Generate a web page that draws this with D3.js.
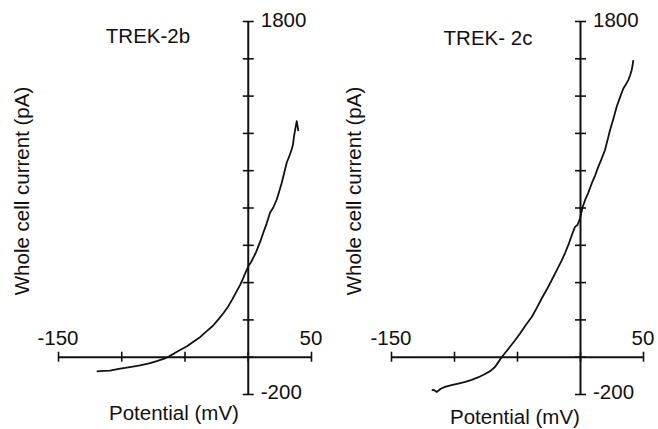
<!DOCTYPE html>
<html>
<head>
<meta charset="utf-8">
<title>TREK-2b / TREK-2c I-V</title>
<style>
  body { margin: 0; background: #fff; }
  svg text { font-family: "Liberation Sans", Arial, sans-serif; font-size: 20.5px; fill: #111; }
</style>
</head>
<body>
<svg id="chart" width="658" height="429"></svg>
<script src="https://cdn.jsdelivr.net/npm/d3@7/dist/d3.min.js"></script>
<script>
// tick values shared by both panels
var xTicks = [-150, -100, -50, 0, 50];
var yTicks = [-200, 0, 200, 400, 600, 800, 1000, 1200, 1400, 1600, 1800];

// TREK-2b trace, potential (mV) and current (pA)
var trek2bV = [-119.4, -114, -108.9, -103, -98.3, -92, -85.1, -78, -71.9, -66, -62.8, -58, -53.5, -48, -43, -37.5,
  -32.4, -27.5, -23.2, -19, -15.3, -12, -8.7, -6, -3.5, -1.5, 0.5, 2.5, 4.4, 6.3, 8.4, 10.3, 12.3, 15, 17.6,
  20.2, 22.9, 24.8, 26.9, 28.8, 30.8, 32.8, 34.8, 35.8, 36.6, 37.8, 38.7, 39.3, 40];
var trek2bI = [-79, -76, -75, -67, -61, -54, -47, -36, -24, -10, 0, 18, 36, 56, 80, 106,
  137, 166, 200, 236, 271, 310, 352, 385, 423, 455, 486, 505, 531, 556, 593, 625, 665, 715, 772,
  800, 843, 885, 933, 985, 1040, 1075, 1112, 1140, 1183, 1230, 1263, 1240, 1210];

// TREK-2c trace
var trek2cV = [-117.7, -116, -113.7, -110.5, -107.1, -102, -96.6, -91, -86, -80.5, -75.4, -71, -67.5, -64.8, -62.2,
  -59, -55.6, -51.5, -47.6, -43, -38.3, -34.3, -30.4, -26.4, -22.5, -18.5, -14.5, -11.9, -9.3, -6.6, -4, -2,
  0, 2, 4, 6.6, 9.3, 11.9, 14.5, 17.2, 19.8, 21.8, 23.8, 26.5, 29.1, 31.8, 34.4, 36.4, 38.3, 39.7, 41, 41.8, 42.3];
var trek2cI = [-180, -178, -189, -172, -162, -152, -144, -135, -124, -110, -93, -76, -55, -29, -3,
  24, 53, 88, 124, 170, 213, 262, 312, 360, 410, 463, 517, 556, 598, 650, 696, 706,
  741, 800, 839, 880, 929, 970, 1018, 1062, 1107, 1160, 1214, 1276, 1340, 1392, 1438, 1460, 1483, 1508, 1536, 1565, 1590];

var svg = d3.select('#chart');

var panels = [
  { title: 'TREK-2b', v: trek2bV, i: trek2bI, x0: 58, x1: 311, yTop: 21, yBot: 394,
    titleX: 148, titleY: 43, yLabX: 29, xLabX: 174, xLabY: 420 },
  { title: 'TREK- 2c', v: trek2cV, i: trek2cI, x0: 391, x1: 643, yTop: 21, yBot: 394,
    titleX: 488, titleY: 45, yLabX: 361, xLabX: 515, xLabY: 424 }
];

panels.forEach(function (p) {
  var x = d3.scaleLinear().domain([-150, 50]).range([p.x0, p.x1]);
  var y = d3.scaleLinear().domain([-200, 1800]).range([p.yBot, p.yTop]);
  var g = svg.append('g');

  // x axis, crossing ticks
  var xa = g.append('g')
    .attr('transform', 'translate(0,' + y(0) + ')')
    .call(d3.axisBottom(x).tickValues(xTicks).tickSizeOuter(0).tickFormat(''));
  xa.selectAll('.tick line').attr('y1', -5).attr('y2', 5);

  // y axis
  var ya = g.append('g')
    .attr('transform', 'translate(' + x(0) + ',0)')
    .call(d3.axisLeft(y).tickValues(yTicks).tickSizeOuter(0).tickFormat(''));
  ya.selectAll('.tick line').attr('x1', -5).attr('x2', 6);

  g.selectAll('.domain').attr('stroke', '#111').attr('stroke-width', 2);
  g.selectAll('.tick line').attr('stroke', '#111').attr('stroke-width', 1.6);

  // end labels
  g.append('text').attr('x', x(-150)).attr('y', y(0) - 12).attr('text-anchor', 'middle').text('-150');
  g.append('text').attr('x', x(50)).attr('y', y(0) - 12).attr('text-anchor', 'middle').text('50');
  g.append('text').attr('x', x(0) + 13).attr('y', y(1800) + 6).text('1800');
  g.append('text').attr('x', x(0) + 13).attr('y', y(-200) + 5).text('-200');

  // titles and axis labels
  g.append('text').attr('x', p.titleX).attr('y', p.titleY).attr('text-anchor', 'middle').text(p.title);
  g.append('text').attr('x', p.xLabX).attr('y', p.xLabY).attr('text-anchor', 'middle').text('Potential (mV)');
  g.append('text')
    .attr('transform', 'translate(' + p.yLabX + ',191) rotate(-90)')
    .attr('text-anchor', 'middle')
    .text('Whole cell current (pA)');

  // trace
  var line = d3.line()
    .x(function (d) { return x(d[0]); })
    .y(function (d) { return y(d[1]); });
  g.append('path')
    .datum(d3.zip(p.v, p.i))
    .attr('fill', 'none')
    .attr('stroke', '#111')
    .attr('stroke-width', 1.8)
    .attr('stroke-linejoin', 'round')
    .attr('d', line);
});
</script>
</body>
</html>
